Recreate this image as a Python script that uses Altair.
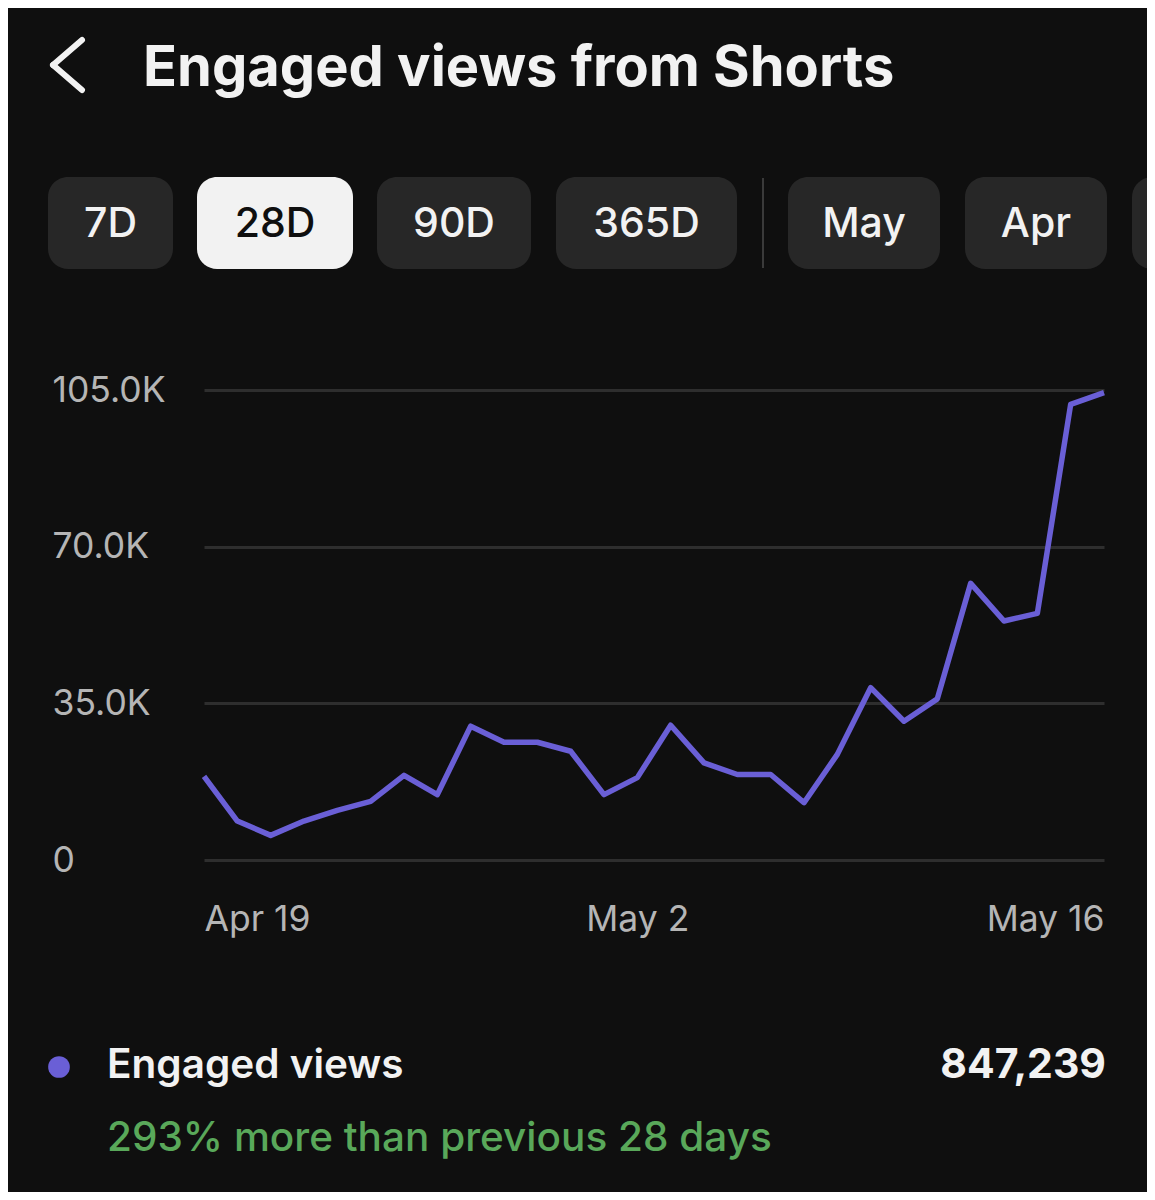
import altair as alt
import pandas as pd

# ---- data ----
dates = [
    "2024-04-19", "2024-04-20", "2024-04-21", "2024-04-22", "2024-04-23", "2024-04-24", "2024-04-25",
    "2024-04-26", "2024-04-27", "2024-04-28", "2024-04-29", "2024-04-30", "2024-05-01", "2024-05-02",
    "2024-05-03", "2024-05-04", "2024-05-05", "2024-05-06", "2024-05-07", "2024-05-08", "2024-05-09",
    "2024-05-10", "2024-05-11", "2024-05-12", "2024-05-13", "2024-05-14", "2024-05-15", "2024-05-16",
]
views = [
    18700, 8700, 5500, 8700, 11100, 13100, 18900,
    14600, 29900, 26300, 26300, 24300, 14600, 18400,
    30100, 21700, 19100, 19100, 12800, 23600, 38500,
    31000, 36000, 61800, 53400, 55100, 101800, 104400,
]
y_ticks = [0, 35000, 70000, 105000]
x_ticks = [(2024, 4, 19), (2024, 5, 2), (2024, 5, 16)]
button_labels = ["7D", "28D", "90D", "365D", "May", "Apr", ""]
selected_button = "28D"
title_text = "Engaged views from Shorts"
legend_label = "Engaged views"
total_text = "847,239"
change_text = "293% more than previous 28 days"

# ---- layout (page pixels) ----
PLOT_X0, PLOT_Y0 = 204, 390
W, H = 900, 470
btn_left = [48, 197, 377, 556, 788, 965, 1132]
btn_right = [173, 353, 531, 737, 940, 1107, 1220]
BTN_TOP, BTN_BOT = 177, 269

BG = "#0f0f0f"
LINE = "#6a5fd6"
FONT = "Inter"


def px(x):
    return x - PLOT_X0


def py(y):
    return y - PLOT_Y0


df = pd.DataFrame({"date": dates, "views": views})

line = alt.Chart(df).mark_line(color=LINE, strokeWidth=5.5, strokeJoin="round").encode(
    x=alt.X(
        "date:T",
        scale=alt.Scale(type="utc"),
        axis=alt.Axis(
            title=None,
            values=[alt.DateTime(year=a, month=b, date=c, utc=True) for a, b, c in x_ticks],
            format="%b %-d",
            labelFlush=True,
            grid=False,
            ticks=False,
            tickSize=0,
            domain=False,
            labelPadding=70,
            labelBaseline="alphabetic",
            labelFont=FONT,
            labelFontSize=35.5,
            labelColor="#b5b5b5",
        ),
    ),
    y=alt.Y(
        "views:Q",
        scale=alt.Scale(domain=[0, 105000], nice=False),
        axis=alt.Axis(
            title=None,
            values=y_ticks,
            labelExpr="datum.value == 0 ? '0' : format(datum.value / 1000, '.1f') + 'K'",
            grid=True,
            gridColor="#2e2e2e",
            gridWidth=3,
            ticks=False,
            tickSize=0,
            domain=False,
            labelAlign="left",
            labelBaseline="middle",
            labelPadding=152,
            labelFont=FONT,
            labelFontSize=35.5,
            labelColor="#b5b5b5",
        ),
    ),
)

# ---- header ----
title = alt.Chart(pd.DataFrame({"t": [title_text]})).mark_text(
    align="left", baseline="alphabetic", font=FONT, fontSize=56, fontWeight="bold", color="#f2f2f2"
).encode(x=alt.value(px(143)), y=alt.value(py(86)), text="t:N")

chev1 = alt.Chart(pd.DataFrame({"a": [0]})).mark_rule(
    color="#f2f2f2", strokeWidth=6, strokeCap="round"
).encode(x=alt.value(px(82)), x2=alt.value(px(53)), y=alt.value(py(40)), y2=alt.value(py(65)))
chev2 = alt.Chart(pd.DataFrame({"a": [0]})).mark_rule(
    color="#f2f2f2", strokeWidth=6, strokeCap="round"
).encode(x=alt.value(px(53)), x2=alt.value(px(82)), y=alt.value(py(65)), y2=alt.value(py(90)))

# ---- period buttons ----
bdf = pd.DataFrame({
    "label": button_labels,
    "x0": [px(v) for v in btn_left],
    "x1": [px(v) for v in btn_right],
})
bdf["xc"] = (bdf["x0"] + bdf["x1"]) / 2
bdf["fill"] = ["#f2f2f2" if l == selected_button else "#272727" for l in button_labels]
bdf["tcol"] = ["#0f0f0f" if l == selected_button else "#f2f2f2" for l in button_labels]

btn_rect = alt.Chart(bdf).mark_rect(cornerRadius=20).encode(
    x=alt.X("x0:Q", scale=None),
    x2="x1:Q",
    y=alt.value(py(BTN_TOP)),
    y2=alt.value(py(BTN_BOT)),
    fill=alt.Fill("fill:N", scale=None),
)
btn_text = alt.Chart(bdf).mark_text(
    align="center", baseline="middle", font=FONT, fontSize=41, fontWeight=500
).encode(
    x=alt.X("xc:Q", scale=None),
    y=alt.value(py(225)),
    text="label:N",
    color=alt.Color("tcol:N", scale=None),
)
sep = alt.Chart(pd.DataFrame({"a": [0]})).mark_rule(color="#3a3a3a", strokeWidth=2).encode(
    x=alt.value(px(763)), y=alt.value(py(178)), y2=alt.value(py(268))
)

# ---- legend / summary ----
dot = alt.Chart(pd.DataFrame({"a": [0]})).mark_circle(color=LINE, opacity=1, size=470).encode(
    x=alt.value(px(59)), y=alt.value(py(1067))
)
leg = alt.Chart(pd.DataFrame({"t": [legend_label]})).mark_text(
    align="left", baseline="alphabetic", font=FONT, fontSize=40.5, fontWeight=600, color="#f2f2f2"
).encode(x=alt.value(px(107)), y=alt.value(py(1078)), text="t:N")
tot = alt.Chart(pd.DataFrame({"t": [total_text]})).mark_text(
    align="right", baseline="alphabetic", font=FONT, fontSize=41, fontWeight="bold", color="#f2f2f2"
).encode(x=alt.value(px(1106)), y=alt.value(py(1078)), text="t:N")
chg = alt.Chart(pd.DataFrame({"t": [change_text]})).mark_text(
    align="left", baseline="alphabetic", font=FONT, fontSize=40.5, fontWeight=500, color="#59a85a"
).encode(x=alt.value(px(107)), y=alt.value(py(1151)), text="t:N")

chart = alt.layer(
    line, title, chev1, chev2, btn_rect, btn_text, sep, dot, leg, tot, chg
).properties(
    width=W,
    height=H,
    autosize=alt.AutoSizeParams(type="none"),
    padding={"left": PLOT_X0 - 8, "top": PLOT_Y0 - 8, "right": 1139 - (PLOT_X0 - 8) - W, "bottom": 1184 - (PLOT_Y0 - 8) - H},
).configure(
    background=BG,
).configure_view(stroke=None)

chart.save("out.html", embed_options={"renderer": "svg", "actions": False})
